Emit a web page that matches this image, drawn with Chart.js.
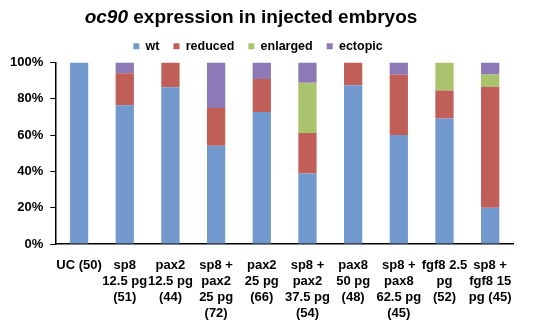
<!DOCTYPE html>
<html>
<head>
<meta charset="utf-8">
<script src="https://cdn.jsdelivr.net/npm/chart.js@4"></script>
<style>
  html, body { margin: 0; padding: 0; background: #fff; }
  #wrap { position: relative; width: 533px; height: 327px; }
  #title {
    position: absolute; left: 0; top: 6px; width: 502px; text-align: center;
    font: bold 19px "Liberation Sans", Arial, sans-serif; color: #000;
  }
</style>
</head>
<body>
<div id="wrap">
  <div id="title"><i>oc90</i> expression in injected embryos</div>
  <canvas id="chart" width="533" height="327"></canvas>
</div>
<script>
// ===== oc90 phenotype distribution per injection =====

const categories = [
  'UC (50)',
  ['sp8', '12.5 pg', '(51)'],
  ['pax2', '12.5 pg', '(44)'],
  ['sp8 +', 'pax2', '25 pg', '(72)'],
  ['pax2', '25 pg', '(66)'],
  ['sp8 +', 'pax2', '37.5 pg', '(54)'],
  ['pax8', '50 pg', '(48)'],
  ['sp8 +', 'pax8', '62.5 pg', '(45)'],
  ['fgf8 2.5', 'pg', '(52)'],
  ['sp8 +', 'fgf8 15', 'pg (45)']
];

const wt       = [100, 76.5, 86.4, 54.2, 72.7, 38.9, 87.5, 60.0, 69.2, 20.0];
const reduced  = [0, 17.6, 13.6, 20.8, 18.2, 22.2, 12.5, 33.3, 15.4, 66.7];
const enlarged = [0, 0, 0, 0, 0, 27.8, 0, 0, 15.4, 6.7];
const ectopic  = [0, 5.9, 0, 25.0, 9.1, 11.1, 0, 6.7, 0, 6.6];

const yTicks = [0, 20, 40, 60, 80, 100];

const FONT = '"Liberation Sans", Arial, sans-serif';

function ds(label, data, color) {
  return { label: label, data: data, backgroundColor: color, borderWidth: 0,
           categoryPercentage: 1, barPercentage: 0.4 };
}

new Chart(document.getElementById('chart'), {
  type: 'bar',
  data: {
    labels: categories,
    datasets: [
      ds('wt', wt, '#7299cd'),
      ds('reduced', reduced, '#bf5f58'),
      ds('enlarged', enlarged, '#a9c46c'),
      ds('ectopic', ectopic, '#8c79b5')
    ]
  },
  options: {
    responsive: false,
    animation: false,
    layout: { padding: { top: 26, right: 20, left: 3, bottom: -8 } },
    plugins: {
      legend: {
        position: 'top',
        labels: { boxWidth: 6, boxHeight: 6, padding: 14, color: '#000',
                  font: { family: FONT, size: 12.5, weight: 'bold' } }
      },
      tooltip: { enabled: false }
    },
    scales: {
      x: {
        stacked: true,
        grid: { display: false, drawTicks: false },
        border: { display: true, color: '#000', width: 1.5 },
        ticks: { autoSkip: false, maxRotation: 0, color: '#000', padding: 13,
                 font: { family: FONT, size: 13, weight: 'bold', lineHeight: 1.25 } }
      },
      y: {
        stacked: true, min: 0, max: 100,
        afterBuildTicks: axis => { axis.ticks = yTicks.map(v => ({ value: v })); },
        grid: { drawOnChartArea: false, drawTicks: true, tickLength: 6, color: '#000' },
        border: { display: true, color: '#000', width: 1.5 },
        ticks: { color: '#000', padding: 7, callback: v => v + '%',
                 font: { family: FONT, size: 13, weight: 'bold' } }
      }
    }
  }
});
</script>
</body>
</html>
